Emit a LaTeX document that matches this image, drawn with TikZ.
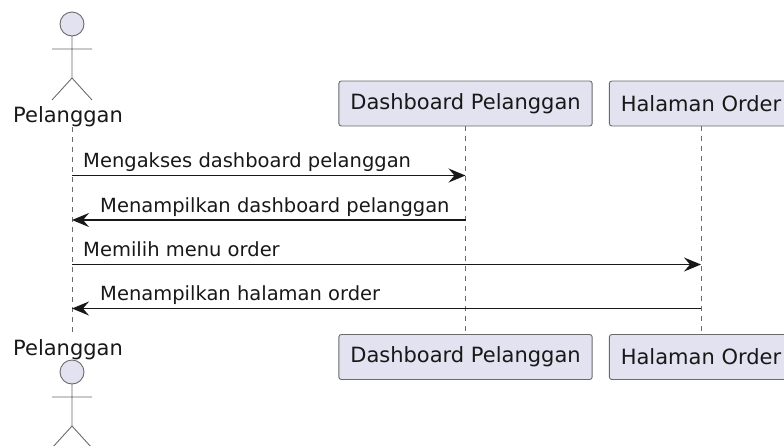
\documentclass[tikz,border=0pt]{standalone}
\usepackage{fontspec}
\setmainfont{DejaVu Sans}
\usetikzlibrary{arrows.meta}
\definecolor{umlfill}{HTML}{E2E2F0}
\definecolor{umlline}{HTML}{181818}
\definecolor{umlthin}{HTML}{6A6A6A}

\begin{document}
\begin{tikzpicture}[x=1pt, y=-1pt,
 part/.style={draw=umlthin, line width=.9pt, fill=umlfill, rounded corners=2.5pt, minimum height=45pt, inner xsep=11.5pt, text=umlline, font=\fontsize{21}{25}\selectfont},
 life/.style={umlthin, line width=.9pt, dash pattern=on 5pt off 5pt},
 msg/.style={umlline, line width=1.5pt, -{Stealth[length=17pt, width=14pt, inset=6pt]}},
 lbl/.style={font=\fontsize{19.5}{23}\selectfont, text=umlline, anchor=base west, inner sep=0pt},
 actorname/.style={font=\fontsize{21}{25}\selectfont, text=umlline, anchor=base, inner sep=0pt},
 actor/.style={umlthin, line width=.9pt}]
\useasboundingbox (0,0) rectangle (784,445);
\clip (0,0) rectangle (784,445);
\node[part] (dashTop) at (465.5,103.5) {Dashboard Pelanggan};
\node[part] (orderTop) at (701,103.5) {Halaman Order};
\node[part] (dashBot) at (465.5,357) {Dashboard Pelanggan};
\node[part] (orderBot) at (701,357) {Halaman Order};
\node[actorname] (custTop) at (68,122) {Pelanggan};
\node[actorname] (custBot) at (68,355) {Pelanggan};
\foreach \dy in {0,348} {
 \draw[actor, fill=umlfill] (72,24+\dy) circle (12pt);
 \draw[actor] (72,36+\dy) -- (72,78+\dy) (52,49+\dy) -- (92,49+\dy) (52,100+\dy) -- (72,78+\dy) -- (92,100+\dy);
}
\coordinate (custLifeTop) at (72,127);
\coordinate (custLifeBot) at (72,334);
\draw[life] (custLifeTop) -- (custLifeBot);
\draw[life] (dashTop) -- (dashBot);
\draw[life] (orderTop) -- (orderBot);
\foreach \n/\y in {1/175.5,2/220,3/264.5,4/308.5} {
 \coordinate (cust\n) at (72,\y);
 \coordinate (dash\n) at (465.5,\y);
 \coordinate (order\n) at (701,\y);
}
\foreach \n/\from/\to/\dx/\txt in {1/cust/dash/11/Mengakses dashboard pelanggan, 2/dash/cust/28/Menampilkan dashboard pelanggan, 3/cust/order/11/Memilih menu order, 4/order/cust/28/Menampilkan halaman order} {
 \draw[msg] (\from\n) -- (\to\n);
 \path (cust\n) ++(\dx,-8) node[lbl] (msg\n) {\txt};
}
\end{tikzpicture}
\end{document}
